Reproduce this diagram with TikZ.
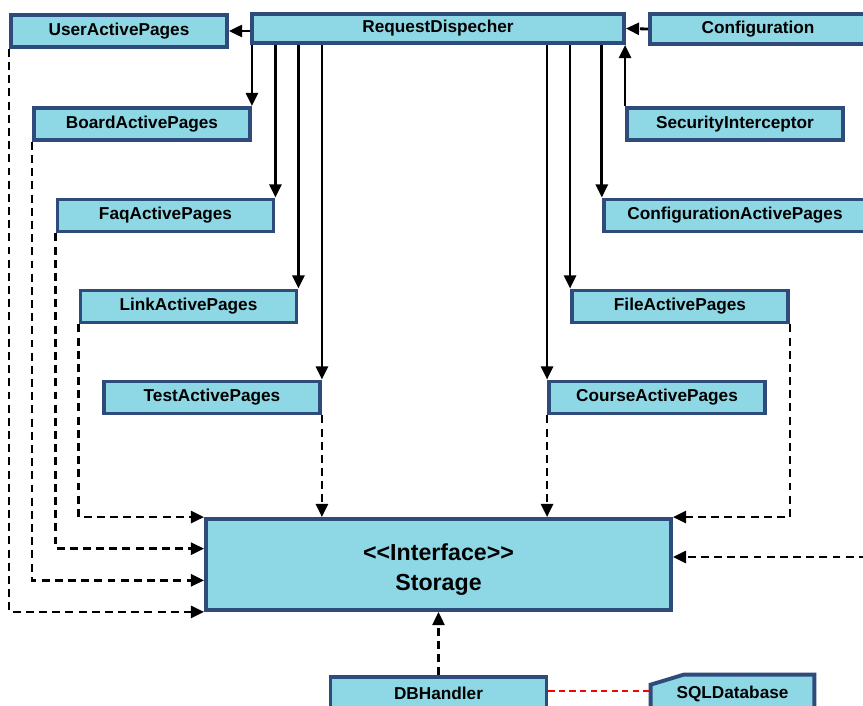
\documentclass[tikz,border=0pt]{standalone}
\usepackage{fontspec}
\setmainfont{Liberation Sans}
\usepackage{tikz}
\usetikzlibrary{arrows.meta, calc, backgrounds}
\definecolor{clsfill}{HTML}{8ED8E6}
\definecolor{clsline}{HTML}{2F4B7C}

\begin{document}
\begin{tikzpicture}[x=0.02cm, y=-0.02cm,
    cls/.style={draw=clsline, fill=clsfill, line width=2.2pt, inner sep=0pt,
        minimum width=4.32cm, minimum height=0.64cm,
        font=\fontsize{9.8}{12}\selectfont\bfseries},
    call/.style={-{Triangle[length=7.5pt, width=6.8pt]}, line width=1.6pt},
    uses/.style={call, dash pattern=on 4.5pt off 3pt}]
        \useasboundingbox (0,0) rectangle (863,706);
        \clip (0,0) rectangle (863,706);

        % dispatcher and the page classes
        \node[cls, minimum width=7.44cm, minimum height=0.58cm] (disp) at (438,28.5) {RequestDispecher};
        \node[cls] (user) at (119,31) {UserActivePages};
        \node[cls, minimum height=0.6cm] (conf) at (758,29) {Configuration};
        \node[cls] (board) at (142,124) {BoardActivePages};
        \node[cls] (secu) at (735,124) {SecurityInterceptor};
        \node[cls] (faq) at (165.5,215.5) {FaqActivePages};
        \node[cls, minimum width=5.25cm] (confpages) at (735,215.5) {ConfigurationActivePages};
        \node[cls] (link) at (188.5,306.5) {LinkActivePages};
        \node[cls] (file) at (680,306.5) {FileActivePages};
        \node[cls] (test) at (212,397.5) {TestActivePages};
        \node[cls] (course) at (657,397.5) {CourseActivePages};
        \node[cls, minimum width=9.3cm, minimum height=1.82cm, align=center,
            font=\fontsize{13.2}{17}\selectfont\bfseries] (storage) at (438.5,564.5)
            {\raisebox{-3pt}[\height][\depth]{<\kern0pt<Interface>\kern0pt>}\\
             \raisebox{-3pt}[\height][\depth]{Storage}};
        \node[cls] (db) at (438.5,693) {DBHandler};
        \node[inner sep=0pt, minimum width=3.26cm, minimum height=0.64cm,
            font=\fontsize{9.8}{12}\selectfont\bfseries] (sql) at (732.5,691)
            {\raisebox{-1.5pt}[\height][\depth]{SQLDatabase}};
        \begin{scope}[on background layer]
            \draw[draw=clsline, fill=clsfill, line width=2.2pt]
                (sql.south west) -- ($(sql.north west)+(0,10)$) -- ($(sql.north west)+(33,0)$)
                -- (sql.north east) -- (sql.south east);
        \end{scope}

        % calls from the dispatcher
        \draw[call] (disp.west |- user) -- (user.east);
        \draw[uses] (conf.west) -- (disp.east);
        \foreach \n in {board, faq, link, test}
            \draw[call] (disp.south -| \n.north east) -- (\n.north east);
        \foreach \n in {course, file, confpages}
            \draw[call] (disp.south -| \n.north west) -- (\n.north west);
        \draw[call] (secu.north west) -- (secu.north west |- disp.south);

        % dependencies on the storage interface
        \foreach \n/\f in {user/1, board/0.667, faq/0.333, link/0} {
            \coordinate (in) at ($(storage.north west)!\f!(storage.south west)$);
            \draw[uses] (\n.south west) |- (in);
        }
        \draw[uses] (test.south east) -- (test.south east |- storage.north);
        \draw[uses] (course.south west) -- (course.south west |- storage.north);
        \draw[uses] (file.south east) |- (storage.north east);
        \coordinate (confin) at (880,557);
        \draw[uses] (confin) -- (confin -| storage.east);
        \draw[uses] (db.north) -- (storage.south);
        \draw[red, line width=1.1pt, dash pattern=on 3.5pt off 2.5pt] (db.east |- sql.west) -- (sql.west);
\end{tikzpicture}
\end{document}
